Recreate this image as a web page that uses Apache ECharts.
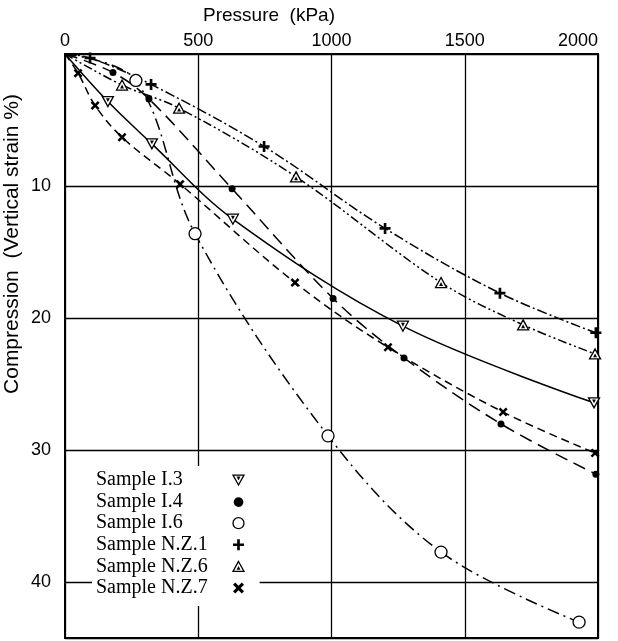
<!DOCTYPE html>
<html><head><meta charset="utf-8">
<script src="https://cdn.jsdelivr.net/npm/echarts@6/dist/echarts.min.js"></script>
<style>html,body{margin:0;padding:0;background:#fff}#c{width:618px;height:641px}</style>
</head><body><div id="c"></div>
<script>
// ---- data (pressure kPa, vertical strain %) ----
const xTicks = [0, 500, 1000, 1500, 2000];
const yTicks = [10, 20, 30, 40];
const seriesNames = ['Sample I.3', 'Sample I.4', 'Sample I.6', 'Sample N.Z.1', 'Sample N.Z.6', 'Sample N.Z.7'];

const pressureI3 = [0, 161, 326, 630, 1268, 1985];
const strainI3   = [0, 3.6, 6.8, 12.5, 20.6, 26.4];

const pressureI4 = [0, 180, 315, 627, 1006, 1272, 1636, 1992];
const strainI4   = [0, 1.4, 3.4, 10.2, 18.5, 23.0, 28.0, 31.8];

const pressureI6 = [0, 266, 488, 987, 1411, 1929];
const strainI6   = [0, 2.0, 13.6, 28.9, 37.7, 43.0];

const pressureNZ1 = [0, 94, 323, 747, 1201, 1632, 1992];
const strainNZ1   = [0, 0.3, 2.3, 7.0, 13.2, 18.1, 21.1];

const pressureNZ6 = [0, 214, 428, 867, 1411, 1719, 1989];
const strainNZ6   = [0, 2.35, 4.1, 9.3, 17.3, 20.5, 22.7];

const pressureNZ7 = [0, 49, 113, 214, 432, 863, 1212, 1644, 1989];
const strainNZ7   = [0, 1.45, 3.9, 6.3, 9.85, 17.3, 22.2, 27.1, 30.2];

// ---- styling ----
const SANS = 'Liberation Sans';
const SERIF = 'Liberation Serif';
const hollow = {color: '#fff', borderColor: '#000', borderWidth: 1.3};
const solid = {color: '#000', borderColor: '#000', borderWidth: 0};
const specs = [
  {x: pressureI3, y: strainI3, symbol: 'path://M0,0 L10,0 L5,9 Z M4.2,2 L5.8,2 L5,3.6 Z', size: [11, 10], item: hollow, dash: 'solid'},
  {x: pressureI4, y: strainI4, symbol: 'circle', size: 7, item: solid, dash: [13, 7]},
  {x: pressureI6, y: strainI6, symbol: 'circle', size: 12, item: hollow, dash: [12, 5, 2, 5]},
  {x: pressureNZ1, y: strainNZ1, symbol: 'path://M3.8,0 H6.2 V3.8 H10 V6.2 H6.2 V10 H3.8 V6.2 H0 V3.8 H3.8 Z', size: 11, item: solid, dash: [10, 3, 2, 3]},
  {x: pressureNZ6, y: strainNZ6, symbol: 'path://M5,0 L10,9 L0,9 Z M5,5.4 L5.8,7 L4.2,7 Z', size: [11, 10], item: hollow, dash: [9, 3, 2, 3, 2, 3]},
  {x: pressureNZ7, y: strainNZ7, symbol: 'path://M2,0 L5,3 L8,0 L10,2 L7,5 L10,8 L8,10 L5,7 L2,10 L0,8 L3,5 L0,2 Z', size: 9, item: solid, dash: [8, 5]}
];
const legendIcons = [
  specs[0].symbol,
  'path://M0,0 M12,12 M11.3,6 A5.3,5.3 0 1 1 11.29,5.9 Z',
  'circle',
  specs[3].symbol,
  specs[4].symbol,
  specs[5].symbol
];

const series = specs.map((s, i) => ({
  name: seriesNames[i],
  type: 'line',
  smooth: 0.35,
  symbol: s.symbol,
  symbolSize: s.size,
  itemStyle: s.item,
  lineStyle: {color: '#000', width: 1.5, type: s.dash},
  z: 3,
  data: s.x.map((v, k) => (v === 0 && s.y[k] === 0)
    ? {value: [v, s.y[k]], symbol: 'none'}
    : [v, s.y[k]])
}));

const chart = echarts.init(document.getElementById('c'), null, {renderer: 'canvas'});
chart.setOption({
  animation: false,
  backgroundColor: '#fff',
  grid: {left: 65, right: 20, top: 54, bottom: 3, show: true, borderColor: '#000', borderWidth: 2, backgroundColor: 'transparent'},
  xAxis: {
    type: 'value', position: 'top', min: xTicks[0], max: xTicks[xTicks.length - 1], interval: 500,
    axisLine: {show: true, lineStyle: {color: '#000', width: 2}},
    axisTick: {show: false},
    splitLine: {show: true, lineStyle: {color: '#000', width: 1.3}},
    axisLabel: {color: '#000', fontFamily: SANS, fontSize: 18, margin: 4, alignMaxLabel: 'right',
      formatter: v => String(v)}
  },
  yAxis: {
    type: 'value', inverse: true, min: 0, max: 44.2, interval: 10,
    axisLine: {show: true, lineStyle: {color: '#000', width: 2}},
    axisTick: {show: false},
    splitLine: {show: true, lineStyle: {color: '#000', width: 1.3}},
    axisLabel: {color: '#000', fontFamily: SANS, fontSize: 18, margin: 14, showMaxLabel: false,
      formatter: v => yTicks.indexOf(v) >= 0 ? String(v) : ''}
  },
  legend: {
    orient: 'vertical', left: 92, top: 466, align: 'right',
    backgroundColor: '#fff', padding: [4, 15, 8, 4],
    itemWidth: 11, itemHeight: 11, itemGap: 1.6,
    selectedMode: false,
    lineStyle: {width: 0, opacity: 0},
    data: seriesNames.map((n, i) => ({
      name: n,
      icon: legendIcons[i],
      itemStyle: Object.assign({}, specs[i].item),
      lineStyle: {width: 0, opacity: 0}
    })),
    formatter: name => '{n|' + name + '}',
    textStyle: {color: '#000', fontFamily: SERIF, fontSize: 20,
      rich: {n: {width: 132, align: 'left', color: '#000', fontFamily: SERIF, fontSize: 20, lineHeight: 20}}}
  },
  graphic: [
    {type: 'text', left: 203, top: 6, style: {text: 'Pressure  (kPa)', fill: '#000', font: '19px "Liberation Sans"'}},
    {type: 'text', x: 12, y: 244, rotation: Math.PI / 2,
      style: {text: 'Compression  (Vertical strain %)', fill: '#000', font: '21px "Liberation Sans"', align: 'center', verticalAlign: 'middle'}}
  ],
  series: series
});
</script>
</body></html>
